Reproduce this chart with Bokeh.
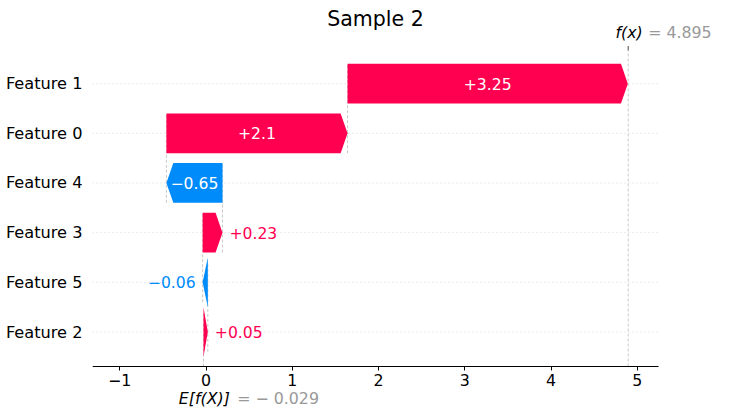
from bokeh.plotting import figure
from bokeh.models import Range1d, FixedTicker, ColumnDataSource
from bokeh.core.properties import value
from bokeh.embed import file_html
from bokeh.resources import INLINE

# ---- data (rows listed bottom to top) ----
features = ["Feature 2", "Feature 5", "Feature 3", "Feature 4", "Feature 0", "Feature 1"]
shap_values = [0.05, -0.06, 0.23, -0.65, 2.10, 3.25]
base_value = -0.029
fx_value = 4.895
x_ticks = [-1, 0, 1, 2, 3, 4, 5]
x_tick_labels = ["−1", "0", "1", "2", "3", "4", "5"]
title_text = "Sample 2"
fx_name = "f(x)"
fx_text = "= 4.895"
base_name = "E[f(X)]"
base_text = "= − 0.029"

# ---- style / layout ----
RED = "#ff0051"
BLUE = "#008bfb"
FONT = "DejaVu Sans"
bar_h = 0.8
small_h = 1.0
head = 0.08

W, H = 730, 410
BL = 92
ppx = 86.25            # px per x unit
ppy = 49.67            # px per row
x0_px = 205.5          # canvas x of value 0
row0_px = 331.5        # canvas y of the bottom row


def ypx(py):
    """canvas pixel row -> data y"""
    return (row0_px - py) / ppy


ax_lo = (BL - x0_px) / ppx          # left end of the axis
ax_hi = (658 - x0_px) / ppx         # right end of the axis
ay_lo, ay_hi = ypx(366), ypx(50)    # chart area bottom / top
x_lo, x_hi = ax_lo, ax_lo + (W - BL) / ppx
y_lo, y_hi = ypx(H), ypx(0)

p = figure(width=W, height=H, output_backend="svg", toolbar_location=None, tools="",
           title=None,
           x_range=Range1d(x_lo, x_hi), y_range=Range1d(y_lo, y_hi),
           min_border_left=BL, min_border_right=0, min_border_top=0, min_border_bottom=0)
p.outline_line_color = None
p.background_fill_color = "white"
p.border_fill_color = "white"
p.xgrid.visible = False
p.ygrid.visible = False

rows = list(range(len(features)))

# x axis, fixed at the bottom of the chart area
p.xaxis.fixed_location = ay_lo
p.xaxis.bounds = (ax_lo, ax_hi)
p.xaxis.ticker = FixedTicker(ticks=x_ticks)
p.xaxis.major_label_overrides = {t: l for t, l in zip(x_ticks, x_tick_labels)}
p.xaxis.major_label_text_font = FONT
p.xaxis.major_label_text_font_size = "15.8px"
p.xaxis.major_label_text_color = "black"
p.xaxis.axis_line_color = "black"
p.xaxis.axis_line_width = 1
p.xaxis.major_tick_line_color = "black"
p.xaxis.major_tick_in = 0
p.xaxis.major_tick_out = 4
p.xaxis.minor_tick_line_color = None
p.xaxis.major_label_standoff = 3

# y axis (feature names)
p.yaxis.ticker = FixedTicker(ticks=rows)
p.yaxis.major_label_overrides = {i: f for i, f in zip(rows, features)}
p.yaxis.major_label_text_font = FONT
p.yaxis.major_label_text_font_size = "16.2px"
p.yaxis.major_label_text_color = "black"
p.yaxis.axis_line_color = None
p.yaxis.major_tick_line_color = None
p.yaxis.major_tick_in = 0
p.yaxis.major_tick_out = 0
p.yaxis.minor_tick_line_color = None
p.yaxis.major_label_standoff = 10

# dotted row lines
p.segment(x0=[ax_lo] * len(rows), x1=[ax_hi] * len(rows), y0=rows, y1=rows,
          line_color="#cccccc", line_width=0.8, line_dash="1 3")

# ---- bars ----
xs, ys, cols = [], [], []
starts, ends = [], []
s = base_value
for i, v in enumerate(shap_values):
    e = s + v
    sign = 1 if v > 0 else -1
    if abs(v) > head:
        n = e - sign * head
        xs.append([s, n, e, n, s])
        ys.append([i - bar_h / 2, i - bar_h / 2, i, i + bar_h / 2, i + bar_h / 2])
    else:
        xs.append([s, e, s])
        ys.append([i - small_h / 2, i, i + small_h / 2])
    cols.append(RED if v > 0 else BLUE)
    starts.append(s)
    ends.append(e)
    s = e

# connector dashed lines
cx, cy0, cy1 = [], [], []
for k in range(1, len(shap_values)):
    cx.append(starts[k]); cy0.append(k - 1 - 0.4); cy1.append(k + 0.4)
p.segment(x0=cx, x1=cx, y0=cy0, y1=cy1, line_color="#bbbbbb", line_width=0.8, line_dash="3 2")
# f(x) and E[f(X)] lines
p.segment(x0=[fx_value], x1=[fx_value], y0=[ay_lo], y1=[ay_hi], line_color="#bbbbbb",
          line_width=0.8, line_dash="3 2")
p.segment(x0=[base_value], x1=[base_value], y0=[ay_lo],
          y1=[ay_lo + (ay_hi - ay_lo) / len(features)],
          line_color="#bbbbbb", line_width=0.8, line_dash="3 2")
# small tick above the chart area at f(x)
p.segment(x0=[fx_value], x1=[fx_value], y0=[ay_hi], y1=[ypx(45.5)],
          line_color="#333333", line_width=0.9)

p.patches(xs=xs, ys=ys, fill_color=cols, line_color=None)

# ---- value labels ----
def fmt(v):
    t = f"{v:+.2f}".rstrip("0").rstrip(".")
    return t.replace("-", "−")

lx, ly, lt, lal, lc, loff = [], [], [], [], [], []
for i, v in enumerate(shap_values):
    t = fmt(v)
    text_w = len(t) * 9.0
    bar_w = abs(v) * ppx
    if text_w < bar_w:
        lx.append(starts[i] + v / 2); lal.append("center"); lc.append("white"); loff.append(0)
    else:
        lx.append(ends[i])
        if v > 0:
            lal.append("left"); lc.append(RED); loff.append(7)
        else:
            lal.append("right"); lc.append(BLUE); loff.append(-7)
    ly.append(i); lt.append(t)
src = ColumnDataSource(dict(x=lx, y=ly, t=lt, a=lal, c=lc, o=loff))
p.text(x="x", y="y", text="t", text_align="a", text_color="c", x_offset="o",
       text_baseline="middle", text_font=value(FONT), text_font_size="15.6px", source=src)

# ---- title and f(x) / E[f(X)] texts ----
p.text(x=[(ax_lo + ax_hi) / 2], y=[ypx(18.5)], text=[title_text],
       text_align="center", text_baseline="alphabetic",
       text_font=value(FONT), text_font_size="20.5px", text_color="black")
fy = ypx(31.7)
p.text(x=[fx_value], y=[fy], x_offset=-12.7, text=[fx_name], text_align="left",
       text_baseline="middle", text_font=value(FONT), text_font_style="italic",
       text_font_size="15.8px", text_color="black")
p.text(x=[fx_value], y=[fy], x_offset=20, text=[fx_text], text_align="left",
       text_baseline="middle", text_font=value(FONT),
       text_font_size="15.8px", text_color="#999999")
ey = ypx(397.5)
p.text(x=[base_value], y=[ey], x_offset=-24.7, text=[base_name], text_align="left",
       text_baseline="middle", text_font=value(FONT), text_font_style="italic",
       text_font_size="15.8px", text_color="black")
p.text(x=[base_value], y=[ey], x_offset=33.7, text=[base_text], text_align="left",
       text_baseline="middle", text_font=value(FONT),
       text_font_size="15.8px", text_color="#999999")

open("out.html", "w").write(file_html(p, INLINE))
